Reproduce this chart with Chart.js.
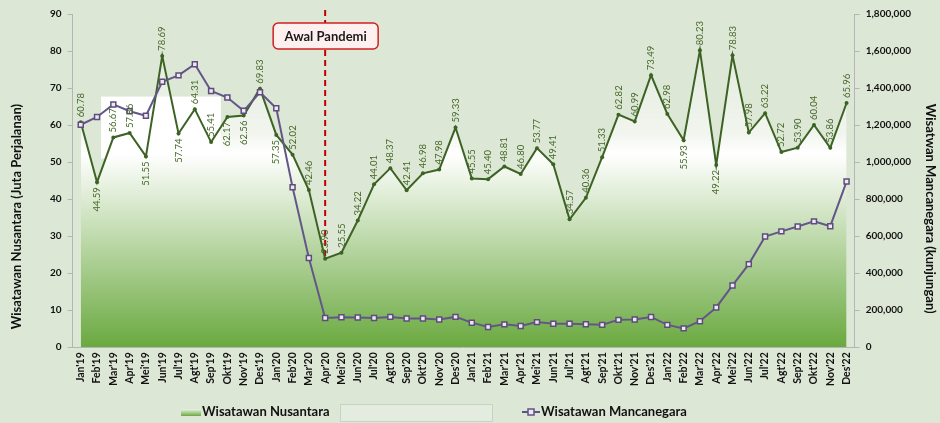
<!DOCTYPE html>
<html>
<head>
<meta charset="utf-8">
<script src="https://cdn.jsdelivr.net/npm/chart.js@4.4.1/dist/chart.umd.min.js"></script>
<style>
  html, body { margin: 0; padding: 0; background: #dde7d6; }
  #wrap { width: 940px; height: 423px; }
</style>
</head>
<body>
<div id="wrap"><canvas id="LineChart" width="940" height="423"></canvas></div>
<script>
// data
const bulan = ["Jan'19","Feb'19","Mar'19","Apr'19","Mei'19","Jun'19","Jul'19","Agt'19","Sep'19","Okt'19","Nov'19","Des'19",
  "Jan'20","Feb'20","Mar'20","Apr'20","Mei'20","Jun'20","Jul'20","Agt'20","Sep'20","Okt'20","Nov'20","Des'20",
  "Jan'21","Feb'21","Mar'21","Apr'21","Mei'21","Jun'21","Jul'21","Agt'21","Sep'21","Okt'21","Nov'21","Des'21",
  "Jan'22","Feb'22","Mar'22","Apr'22","Mei'22","Jun'22","Jul'22","Agt'22","Sep'22","Okt'22","Nov'22","Des'22"];

const nusantara = [60.78, 44.59, 56.67, 57.86, 51.55, 78.69, 57.74, 64.31, 55.41, 62.17, 62.56, 69.83,
  57.35, 52.02, 42.46, 23.90, 25.55, 34.22, 44.01, 48.37, 42.41, 46.98, 47.98, 59.33,
  45.55, 45.40, 48.81, 46.80, 53.77, 49.41, 34.57, 40.36, 51.33, 62.82, 60.99, 73.49,
  62.98, 55.93, 80.23, 49.22, 78.83, 57.98, 63.22, 52.72, 53.90, 60.04, 53.86, 65.96];

const mancanegara = [1201735, 1243996, 1311571, 1275012, 1250233, 1434103, 1468549, 1528622, 1384016, 1349000, 1277000, 1377067,
  1290411, 863960, 481850, 158066, 162293, 160253, 158372, 164079, 155874, 155610, 149994, 164061,
  132925, 109400, 123600, 114900, 135800, 127300, 127000, 124000, 121000, 148000, 150000, 163600,
  121000, 102000, 141000, 215000, 334000, 449000, 598000, 626000, 652000, 680000, 654000, 895000];

const labelBawah = [1, 4, 6, 9, 10, 12, 37, 39];   // label placed under the point
const bulanPandemi = "Apr'20";
const judulKiri = 'Wisatawan Nusantara (Juta Perjalanan)';
const judulKanan = 'Wisatwan Mancanegara (kunjungan)';

const font = 'Lato, "Open Sans", sans-serif';
Chart.defaults.font.family = font;

const ctx = document.getElementById('LineChart');

function gradienArea(c) {
  const area = c.chart.chartArea;
  if (!area) return 'rgba(255,255,255,0)';
  const g = c.chart.ctx.createLinearGradient(0, area.top, 0, area.bottom);
  g.addColorStop(0, 'rgba(255,255,255,0)');
  g.addColorStop(0.36, 'rgba(255,255,255,0.6)');
  g.addColorStop(0.42, 'rgba(255,255,255,1)');
  g.addColorStop(1, '#6aa93f');
  return g;
}

const hiasan = {
  id: 'hiasan',
  beforeDatasetsDraw(chart) {
    const c = chart.ctx, x = chart.scales.x, y = chart.scales.y, a = chart.chartArea;
    const step = x.getPixelForValue(1) - x.getPixelForValue(0);
    // white box behind 2019
    c.save();
    c.fillStyle = '#ffffff';
    const x1 = x.getPixelForValue(0) + step * 1.25, x2 = x.getPixelForValue(0) + step * 8.6;
    const y1 = y.getPixelForValue(67.7), y2 = y.getPixelForValue(51);
    c.fillRect(x1, y1, x2 - x1, y2 - y1);
    c.restore();
    // dashed line
    const px = x.getPixelForValue(bulan.indexOf(bulanPandemi));
    c.save();
    c.strokeStyle = '#c00000';
    c.lineWidth = 2;
    c.setLineDash([6, 4]);
    c.beginPath();
    c.moveTo(px, a.top - 4);
    c.lineTo(px, a.bottom);
    c.stroke();
    c.restore();
  },
  afterDatasetsDraw(chart) {
    const c = chart.ctx, x = chart.scales.x, a = chart.chartArea;
    // data labels
    const meta = chart.getDatasetMeta(0);
    c.save();
    c.fillStyle = '#47692b';
    c.font = '9.5px ' + font;
    c.textBaseline = 'middle';
    meta.data.forEach((p, i) => {
      c.save();
      c.translate(p.x, p.y);
      c.rotate(-Math.PI / 2);
      if (labelBawah.includes(i)) {
        c.textAlign = 'right';
        c.fillText(nusantara[i].toFixed(2), -5, 0);
      } else {
        c.textAlign = 'left';
        c.fillText(nusantara[i].toFixed(2), 5, 0);
      }
      c.restore();
    });
    c.restore();
    // annotation box
    const px = x.getPixelForValue(bulan.indexOf(bulanPandemi));
    const w = 105, h = 26, bx = px - 52, by = a.top + 9;
    c.save();
    c.fillStyle = '#fff0f0';
    c.strokeStyle = '#d02020';
    c.lineWidth = 1.5;
    c.beginPath();
    c.roundRect(bx, by, w, h, 5);
    c.fill();
    c.stroke();
    c.fillStyle = '#1a1a1a';
    c.font = 'bold 13px ' + font;
    c.textAlign = 'center';
    c.textBaseline = 'middle';
    c.fillText('Awal Pandemi', bx + w / 2, by + h / 2 + 1);
    c.restore();
  },
  afterDraw(chart) {
    const c = chart.ctx, a = chart.chartArea;
    const ly = 412;
    c.save();
    // axis titles
    c.fillStyle = '#111';
    c.font = 'bold 13px ' + font;
    c.textAlign = 'center';
    c.textBaseline = 'middle';
    const my = (a.top + a.bottom) / 2;
    c.save();
    c.translate(17, my + 36);
    c.rotate(-Math.PI / 2);
    c.fillText(judulKiri, 0, 0);
    c.restore();
    c.save();
    c.translate(930, my + 28);
    c.rotate(Math.PI / 2);
    c.fillText(judulKanan, 0, 0);
    c.restore();
    // legend 1
    const g = c.createLinearGradient(0, ly - 4, 0, ly + 4);
    g.addColorStop(0, '#ffffff');
    g.addColorStop(1, '#6aa93f');
    c.fillStyle = g;
    c.fillRect(181, ly - 3, 20, 7);
    c.fillStyle = '#111';
    c.textAlign = 'left';
    c.fillText('Wisatawan Nusantara', 202, ly);
    // empty box
    c.fillStyle = '#e3ecde';
    c.strokeStyle = '#c9d3c4';
    c.lineWidth = 1;
    c.fillRect(340.5, 404.5, 152, 17);
    c.strokeRect(340.5, 404.5, 152, 17);
    // legend 2
    c.strokeStyle = '#5f5385';
    c.lineWidth = 2;
    c.beginPath();
    c.moveTo(522, ly);
    c.lineTo(540, ly);
    c.stroke();
    c.fillStyle = '#f3e6f3';
    c.lineWidth = 1.5;
    c.fillRect(528, ly - 3, 6, 6);
    c.strokeRect(528, ly - 3, 6, 6);
    c.fillStyle = '#111';
    c.fillText('Wisatawan Mancanegara', 541, ly);
    c.restore();
  }
};

new Chart(ctx, {
  type: 'line',
  data: {
    labels: bulan,
    datasets: [{
      label: 'Wisatawan Nusantara',
      data: nusantara,
      yAxisID: 'y',
      borderColor: '#3c6323',
      borderWidth: 2,
      pointRadius: 2,
      pointBackgroundColor: '#3c6323',
      pointBorderWidth: 0,
      fill: 'origin',
      backgroundColor: gradienArea,
      tension: 0,
      order: 2
    }, {
      label: 'Wisatawan Mancanegara',
      data: mancanegara,
      yAxisID: 'y2',
      borderColor: '#645689',
      borderWidth: 2,
      pointStyle: 'rect',
      pointRadius: 3.5,
      pointBackgroundColor: '#f3e6f3',
      pointBorderColor: '#5b4e7c',
      pointBorderWidth: 1.5,
      fill: false,
      tension: 0,
      order: 1
    }]
  },
  options: {
    responsive: false,
    animation: false,
    layout: { padding: { top: 14, left: 44, right: 23, bottom: 32 } },
    plugins: {
      legend: { display: false },
      tooltip: { enabled: false }
    },
    scales: {
      x: {
        offset: true,
        grid: { display: false, drawTicks: false },
        border: { color: '#b5b5b5' },
        ticks: {
          autoSkip: false,
          minRotation: 90,
          maxRotation: 90,
          padding: 5,
          color: '#111',
          font: { size: 10.5, weight: 'bold' }
        }
      },
      y: {
        position: 'left',
        min: 0,
        max: 90,
        ticks: { stepSize: 10, color: '#111', padding: 6, font: { size: 10, weight: 'bold' } },
        grid: { drawOnChartArea: false, tickLength: 5, color: '#b5b5b5' },
        border: { color: '#b5b5b5' }
      },
      y2: {
        position: 'right',
        min: 0,
        max: 1800000,
        ticks: {
          stepSize: 200000,
          color: '#111',
          padding: 6,
          font: { size: 10, weight: 'bold' },
          callback: v => v.toLocaleString('en-US')
        },
        grid: { drawOnChartArea: false, tickLength: 5, color: '#b5b5b5' },
        border: { color: '#b5b5b5' }
      }
    }
  },
  plugins: [hiasan]
});
</script>
</body>
</html>
